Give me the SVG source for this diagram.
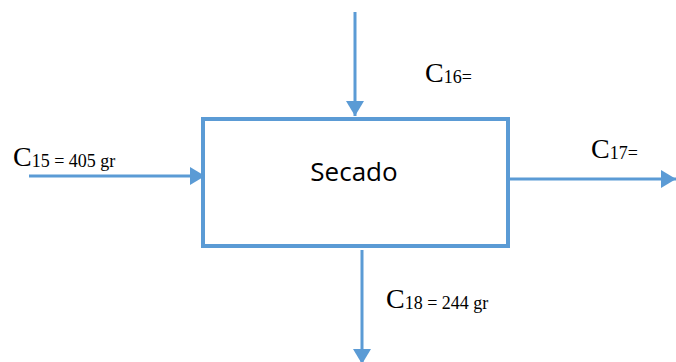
<svg xmlns="http://www.w3.org/2000/svg" width="676" height="362" viewBox="0 0 676 362">
<style>
.ln{stroke:#5B9BD5;stroke-width:3;fill:none}
.big{font-family:"Liberation Serif",serif;font-size:28px;fill:#000}
.sub{font-family:"Liberation Serif",serif;font-size:18px;fill:#000}
.lbl{font-family:"Open Sans","Liberation Sans",sans-serif;font-size:26px;fill:#000}
</style>
<defs>
<marker id="ah" markerWidth="6" markerHeight="6" refX="5" refY="3" orient="auto" markerUnits="strokeWidth">
<path d="M0,0 L5,3 L0,6 Z" fill="#5B9BD5"/>
</marker>
</defs>
<g id="secado">
<rect x="203" y="119" width="305" height="127" fill="#fff" stroke="#5B9BD5" stroke-width="4"/>
<text class="lbl" x="354" y="181" text-anchor="middle">Secado</text>
</g>
<g id="connectors">
<line class="ln" x1="355" y1="12" x2="355" y2="116" marker-end="url(#ah)"/>
<line class="ln" x1="29" y1="176" x2="205" y2="176" marker-end="url(#ah)"/>
<line class="ln" x1="510" y1="179" x2="676" y2="179" marker-end="url(#ah)"/>
<line class="ln" x1="362" y1="250" x2="362" y2="364" marker-end="url(#ah)"/>
</g>
<g id="labels">
<text x="13" y="166"><tspan class="big">C</tspan><tspan class="sub" dy="1">15 = 405 gr</tspan></text>
<text x="425" y="82"><tspan class="big">C</tspan><tspan class="sub" dy="1">16=</tspan></text>
<text x="591" y="158"><tspan class="big">C</tspan><tspan class="sub" dy="1">17=</tspan></text>
<text x="386" y="308"><tspan class="big">C</tspan><tspan class="sub" dy="1">18 = 244 gr</tspan></text>
</g>
</svg>
